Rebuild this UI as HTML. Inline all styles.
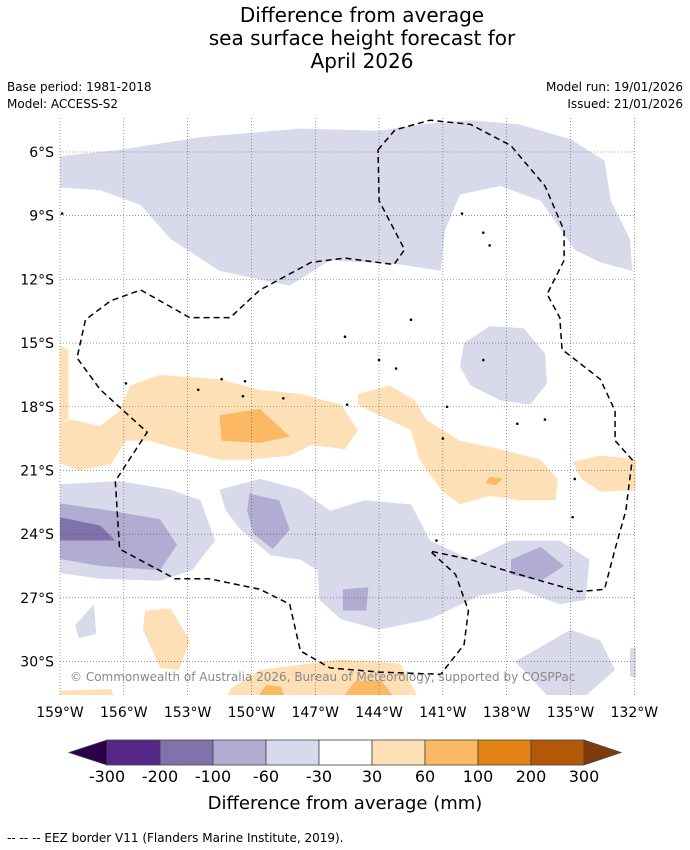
<!DOCTYPE html>
<html><head><meta charset="utf-8">
<style>
html,body{margin:0;padding:0;background:#fff;}
svg{display:block;font-family:"DejaVu Sans","Liberation Sans",sans-serif;}
</style></head>
<body>
<svg id="chart" width="690" height="850" viewBox="0 0 690 850" xmlns="http://www.w3.org/2000/svg">
  <defs><clipPath id="mapclip"><rect x="60" y="118" width="576" height="577"/></clipPath></defs>
  <text x="362" y="22" font-size="20" text-anchor="middle">Difference from average</text>
  <text x="362" y="45" font-size="20" text-anchor="middle">sea surface height forecast for</text>
  <text x="362" y="68" font-size="20" text-anchor="middle">April 2026</text>
  <text x="7" y="91" font-size="12">Base period: 1981-2018</text>
  <text x="7" y="108" font-size="12">Model: ACCESS-S2</text>
  <text x="683" y="91" font-size="12" text-anchor="end">Model run: 19/01/2026</text>
  <text x="683" y="108" font-size="12" text-anchor="end">Issued: 21/01/2026</text>
  <g id="map" clip-path="url(#mapclip)"></g>
  <g id="grid"></g>
  <g id="eez" clip-path="url(#mapclip)"></g>
  <g id="axes"></g>
  <text x="70" y="681" font-size="12" fill="#888">© Commonwealth of Australia 2026, Bureau of Meteorology, supported by COSPPac</text>
  <g id="cbar"></g>
  <text x="345" y="809" font-size="18" text-anchor="middle">Difference from average (mm)</text>
  <text x="7" y="842" font-size="12">--  --  -- EEZ border V11 (Flanders Marine Institute, 2019).</text>
</svg>
<script>
// Axis data
const lonTicks = [-159,-156,-153,-150,-147,-144,-141,-138,-135,-132];
const latTicks = [6,9,12,15,18,21,24,27,30];
const cbLevels = [-300,-200,-100,-60,-30,30,60,100,200,300];
const cbColors = ["#542788","#8073ac","#b2abd2","#d8daeb","#ffffff","#fee0b6","#fdb863","#e08214","#b35806"];
const cbUnder = "#2d004b", cbOver = "#7f3b08";
// Contour polygons [lon(E negative), lat(S positive)] with class index into cbColors
const shapeLevels = [3,5,5,6,5,6,5,3,2,1,3,2,2,2,3,3,3,3,5,5,6,6,5];
const shapes = [
 [[-160,6.3],[-156.2,5.9],[-152.4,5.3],[-147.7,4.9],[-144,5.0],[-142.1,4.7],[-139.7,4.5],[-137.4,4.7],[-135,5.4],[-133.4,6.4],[-133.1,8.3],[-132.2,10.1],[-132.1,11.6],[-133.6,11.2],[-134.8,10.6],[-136.4,8.3],[-138.3,7.6],[-140.2,8.0],[-140.9,9.7],[-141.1,11.6],[-143,11.3],[-146.3,11.1],[-148.2,12.3],[-151.5,11.6],[-153.8,10.1],[-155.2,8.5],[-157.1,7.8],[-160,7.6]],
 [[-160,19.1],[-158.5,18.6],[-157.1,18.9],[-156.2,18.2],[-155.7,17.0],[-154.3,16.5],[-151.5,16.7],[-149.6,17.2],[-147.7,17.4],[-145.8,17.9],[-145,19.1],[-145.6,20.0],[-147.2,19.8],[-148.2,20.3],[-150.1,20.5],[-151.5,20.5],[-153.4,20.0],[-154.8,19.6],[-155.9,19.6],[-156.6,20.7],[-158.1,21.0],[-160,20.3]],
 [[-160,14.8],[-158.6,15.3],[-158.6,18.6],[-160,19.1]],
 [[-151.5,18.4],[-149.6,18.1],[-148.2,19.4],[-149.6,19.7],[-151.4,19.6]],
 [[-145.0,17.4],[-143.5,17.0],[-142.3,17.7],[-141.8,18.6],[-140.2,19.6],[-138.3,20.0],[-136.4,20.5],[-135.6,21.4],[-135.7,22.4],[-137.4,22.4],[-138.8,22.2],[-140.2,22.6],[-141.1,21.9],[-142.1,20.5],[-142.5,19.1],[-144.0,18.4],[-145.0,17.9]],
 [[-138.8,21.3],[-138.2,21.4],[-138.5,21.7],[-139.0,21.6]],
 [[-134.9,20.6],[-133.6,20.3],[-131.5,20.5],[-131.5,21.9],[-133.6,22.0],[-134.5,21.4]],
 [[-160,21.7],[-156.2,21.5],[-153.8,21.9],[-152.4,22.4],[-151.7,24.3],[-152.8,25.7],[-154.3,26.2],[-157.1,26.1],[-160,25.7]],
 [[-160,22.4],[-156.6,22.9],[-154.3,23.3],[-153.5,24.5],[-154.3,25.7],[-157.1,25.5],[-160,25.0]],
 [[-160,23.0],[-157.1,23.6],[-156.4,24.3],[-160,24.3]],
 [[-151.5,21.9],[-149.6,21.4],[-147.7,21.9],[-146.3,22.9],[-144.7,22.4],[-142.5,22.6],[-141.6,24.3],[-139.7,25.2],[-137.8,24.3],[-135.5,24.3],[-134.1,25.2],[-134.3,27.1],[-135.5,27.3],[-137.4,26.6],[-139.3,26.9],[-141.6,28.0],[-144.0,28.5],[-145.8,28.0],[-146.8,27.1],[-146.9,25.7],[-147.7,25.2],[-149.1,25.0],[-150.5,23.8],[-151.2,22.9]],
 [[-150.1,22.1],[-148.7,22.4],[-148.2,23.8],[-149.0,24.7],[-149.9,24.0],[-150.2,22.9]],
 [[-137.8,25.2],[-136.4,24.6],[-135.3,25.5],[-136.4,26.2],[-137.8,25.9]],
 [[-145.7,26.6],[-144.5,26.5],[-144.6,27.6],[-145.7,27.6]],
 [[-140.0,15.0],[-138.8,14.2],[-137.2,14.3],[-136.2,15.5],[-136.1,16.9],[-136.9,17.9],[-138.3,17.7],[-139.7,17.0],[-140.2,16.1]],
 [[-137.6,30.0],[-135.0,28.5],[-133.6,29.0],[-132.9,30.4],[-134.5,31.8],[-135.9,31.8]],
 [[-158.3,28.3],[-157.4,27.3],[-157.3,28.7],[-158.1,28.9]],
 [[-132.2,29.4],[-131.5,29.2],[-131.5,30.8],[-132.2,30.7]],
 [[-155.0,27.6],[-153.8,27.5],[-152.9,29.0],[-153.4,30.4],[-154.3,30.3],[-155.1,28.5]],
 [[-151.0,31.3],[-149.6,30.4],[-145.8,29.9],[-143.0,30.1],[-142.1,31.8],[-151.2,31.8]],
 [[-149.8,31.8],[-149.3,31.1],[-148.6,31.2],[-148.4,31.8]],
 [[-145.8,31.8],[-145.1,30.9],[-143.9,30.9],[-143.2,31.8]],
 [[-160,31.4],[-156.6,31.3],[-156.4,31.8],[-160,31.8]]
];
const eezLine = [[-144.05,5.9],[-143.25,4.96],[-141.6,4.5],[-139.7,4.7],[-137.8,5.7],[-136.2,7.6],[-135.3,9.7],[-135.3,11.1],[-136.1,12.7],[-135.5,13.8],[-135.4,15.3],[-133.6,16.7],[-132.9,18.2],[-132.9,19.6],[-132.1,20.5],[-132.4,22.9],[-132.9,24.7],[-133.4,26.6],[-134.6,26.7],[-136.4,26.2],[-138.1,25.7],[-139.7,25.2],[-141.6,24.8],[-140.4,25.9],[-139.8,27.6],[-140.0,29.2],[-141.1,30.6],[-144.0,30.5],[-146.3,30.3],[-147.7,29.5],[-148.2,27.3],[-149.6,26.6],[-152.0,26.1],[-153.6,26.1],[-156.2,24.7],[-156.4,21.5],[-154.9,19.2],[-157.1,17.2],[-158.2,15.7],[-157.8,13.9],[-156.6,13.0],[-155.2,12.5],[-152.9,13.8],[-151.0,13.8],[-149.6,12.5],[-147.2,11.2],[-145.6,11.0],[-143.3,11.3],[-142.8,10.6],[-144.0,8.3],[-144.05,5.9]];
const islands = [[-148.5,17.6],[-150.4,17.5],[-151.4,16.7],[-145.6,14.7],[-144,15.8],[-143.2,16.2],[-141,19.5],[-140.1,8.9],[-139.1,9.8],[-138.8,10.4],[-141.3,24.3],[-137.5,18.8],[-136.2,18.6],[-134.8,21.4],[-134.9,23.2],[-158.9,8.9],[-155.9,16.9],[-152.5,17.2],[-150.3,16.8],[-142.5,13.9],[-139.1,15.8],[-140.8,18.0],[-145.5,17.9]];

const X = lon => 60 + (lon + 159) * 21.27;
const Y = lat => 152 + (lat - 6) * 21.23;
const NS = "http://www.w3.org/2000/svg";
function mk(tag, attrs, parent){const e=document.createElementNS(NS,tag);for(const k in attrs)e.setAttribute(k,attrs[k]);parent.appendChild(e);return e;}
const pts = arr => arr.map(p=>X(p[0]).toFixed(1)+","+Y(p[1]).toFixed(1)).join(" ");

const map = document.getElementById("map");
shapes.forEach((s,i)=>{
  const e = mk("polygon",{points:pts(s),fill:cbColors[shapeLevels[i]]},map);
  
  
});
islands.forEach(p=>{
  const e = mk("circle",{cx:X(p[0]),cy:Y(p[1]),r:1.3,fill:"#000"},map);
  
  
});

const grid = document.getElementById("grid");
lonTicks.forEach(l=>{
  const e = mk("line",{x1:X(l),x2:X(l),y1:118,y2:695,stroke:"#555","stroke-width":0.6,"stroke-dasharray":"1,2"},grid);
  
  
});
latTicks.forEach(l=>{
  const e = mk("line",{x1:60,x2:636,y1:Y(l),y2:Y(l),stroke:"#555","stroke-width":0.6,"stroke-dasharray":"1,2"},grid);
  
  
});

const eez = document.getElementById("eez");
const ez = mk("polyline",{points:pts(eezLine),fill:"none",stroke:"#000","stroke-width":1.5,"stroke-dasharray":"6,4"},eez);



const axes = document.getElementById("axes");
lonTicks.forEach(l=>{
  const t = mk("text",{x:X(l),y:717,"font-size":14,"text-anchor":"middle"},axes);
  t.textContent = (-l)+"°W";
  
  
});
latTicks.forEach(l=>{
  const t = mk("text",{x:54,y:Y(l)+5,"font-size":14,"text-anchor":"end"},axes);
  t.textContent = l+"°S";
  
  
});

const cb = document.getElementById("cbar");
const cx0=107, cx1=584, cy0=740, cy1=765, segW=(cx1-cx0)/cbColors.length;
const lt = mk("polygon",{points:`69,${(cy0+cy1)/2} ${cx0},${cy0} ${cx0},${cy1}`,fill:cbUnder,stroke:"#444","stroke-width":0.8},cb);


const rt = mk("polygon",{points:`621,${(cy0+cy1)/2} ${cx1},${cy0} ${cx1},${cy1}`,fill:cbOver,stroke:"#444","stroke-width":0.8},cb);


cbColors.forEach((c,i)=>{
  const r = mk("rect",{x:cx0+i*segW,y:cy0,width:segW,height:cy1-cy0,fill:c,stroke:"#444","stroke-width":0.8},cb);
  
  
});
cbLevels.forEach((v,i)=>{
  const t = mk("text",{x:cx0+i*segW,y:782,"font-size":16,"text-anchor":"middle"},cb);
  t.textContent = v;
  
  
});
</script>
</body></html>
